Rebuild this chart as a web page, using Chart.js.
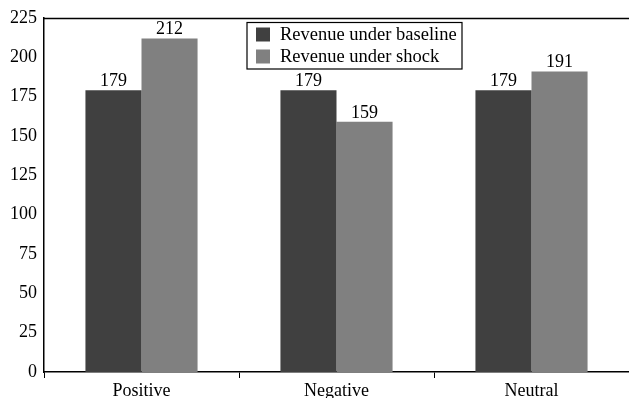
<!DOCTYPE html>
<html>
<head>
<meta charset="utf-8">
<script src="https://cdn.jsdelivr.net/npm/chart.js@4/dist/chart.umd.min.js"></script>
<style>
  html, body { margin: 0; padding: 0; background: #fff; }
  #wrap { width: 629px; height: 398px; }
</style>
</head>
<body>
<div id="wrap"><canvas id="c" width="629" height="398"></canvas></div>
<script>
const categories = ['Positive', 'Negative', 'Neutral'];
const baselineRevenue = [179, 179, 179];
const shockRevenue = [212, 159, 191];
const yTicks = [0, 25, 50, 75, 100, 125, 150, 175, 200, 225];

const seriesLabels = ['Revenue under baseline', 'Revenue under shock'];
const seriesColors = ['#404040', '#808080'];
const FONT = '"Liberation Serif", "Times New Roman", serif';

// Value labels above each bar
const valueLabels = {
  id: 'valueLabels',
  afterDatasetsDraw(chart) {
    const ctx = chart.ctx;
    ctx.save();
    ctx.font = '18px ' + FONT;
    ctx.fillStyle = '#000';
    ctx.textAlign = 'center';
    ctx.textBaseline = 'bottom';
    chart.data.datasets.forEach((ds, i) => {
      chart.getDatasetMeta(i).data.forEach((bar, j) => {
        ctx.fillText(String(ds.data[j]), bar.x, bar.y);
      });
    });
    ctx.restore();
  }
};

// Top frame line and boxed legend inside the plot area
const frameAndLegend = {
  id: 'frameAndLegend',
  afterDraw(chart) {
    const ctx = chart.ctx;
    const a = chart.chartArea;
    ctx.save();
    ctx.strokeStyle = '#000';
    ctx.lineWidth = 1.5;
    ctx.beginPath();
    ctx.moveTo(a.left, a.top + 0.5);
    ctx.lineTo(chart.width, a.top + 0.5);
    ctx.stroke();

    const bx = 247, by = 22.5, bw = 215, bh = 46.5;
    ctx.lineWidth = 1.2;
    ctx.fillStyle = '#fff';
    ctx.fillRect(bx, by, bw, bh);
    ctx.strokeRect(bx, by, bw, bh);
    ctx.font = '18.5px ' + FONT;
    ctx.textBaseline = 'middle';
    ctx.textAlign = 'left';
    chart.data.datasets.forEach((ds, i) => {
      const rowY = by + 11.5 + i * 22;
      ctx.fillStyle = ds.backgroundColor;
      ctx.fillRect(bx + 9, rowY - 6.5, 14, 14);
      ctx.fillStyle = '#000';
      ctx.fillText(ds.label, bx + 33, rowY + 1);
    });
    ctx.restore();
  }
};

new Chart(document.getElementById('c'), {
  type: 'bar',
  data: {
    labels: categories,
    datasets: [
      { label: seriesLabels[0], data: baselineRevenue, backgroundColor: seriesColors[0] },
      { label: seriesLabels[1], data: shockRevenue, backgroundColor: seriesColors[1] }
    ]
  },
  options: {
    responsive: false,
    animation: false,
    layout: { padding: { top: 18, right: 0, left: 0, bottom: 0 } },
    plugins: {
      legend: { display: false },
      tooltip: { enabled: false }
    },
    datasets: {
      bar: { categoryPercentage: 0.575, barPercentage: 1.0, borderWidth: 0 }
    },
    scales: {
      x: {
        grid: {
          display: true,
          offset: true,
          drawOnChartArea: false,
          drawTicks: true,
          tickLength: 6,
          color: '#000'
        },
        border: { display: true, color: '#000', width: 1.5 },
        ticks: {
          color: '#000',
          font: { family: FONT, size: 18 },
          padding: 2
        },
        afterFit(scale) { scale.height = 26; }
      },
      y: {
        min: 0,
        max: 225,
        afterBuildTicks(scale) {
          scale.ticks = yTicks.map(v => ({ value: v }));
        },
        grid: { display: false, drawTicks: false },
        border: { display: true, color: '#000', width: 1.5 },
        ticks: {
          color: '#000',
          font: { family: FONT, size: 18 },
          padding: 7
        },
        afterFit(scale) { scale.width = 44; }
      }
    }
  },
  plugins: [valueLabels, frameAndLegend]
});
</script>
</body>
</html>
